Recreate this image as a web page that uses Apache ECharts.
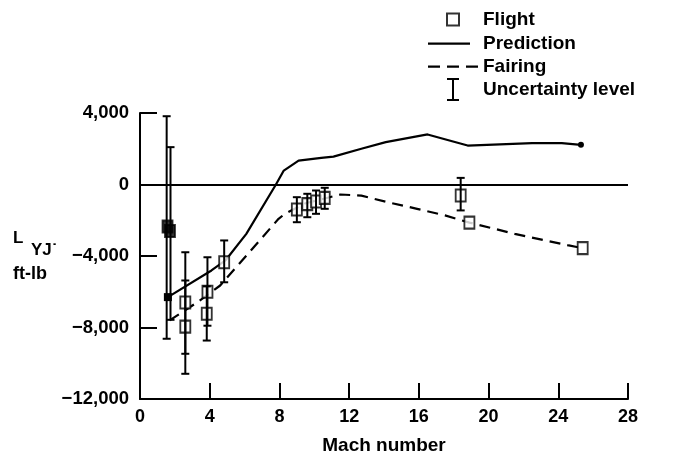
<!DOCTYPE html>
<html>
<head>
<meta charset="utf-8">
<script src="https://cdn.jsdelivr.net/npm/echarts@6/dist/echarts.min.js"></script>
<style>
html,body{margin:0;padding:0;background:#fff;}
#chart{width:674px;height:460px;}
</style>
</head>
<body>
<div id="chart"></div>
<script>
// ---- data ----
const xTicks = [0, 4, 8, 12, 16, 20, 24, 28];
const yTicks = [-12000, -8000, -4000, 0, 4000];

// Flight points (Mach, L_YJ ft-lb)
const flightMach = [1.58, 1.72, 2.6, 2.6, 3.87, 3.83, 4.83, 9.0, 9.6, 10.1, 10.6, 18.4, 18.9, 25.4];
const flightVal  = [-2350, -2600, -6600, -7950, -6000, -7230, -4350, -1400, -1100, -950, -750, -615, -2130, -3560];

// Uncertainty bars (Mach, low, high)
const barMach = [1.53, 1.75, 2.6, 2.6, 3.87, 3.83, 4.83, 9.0, 9.6, 10.1, 10.6, 18.4];
const barLow  = [-8630, -7570, -9470, -10590, -7900, -8730, -5470, -2110, -1830, -1640, -1360, -1450];
const barHigh = [3820, 2090, -3790, -5370, -4070, -5700, -3130, -710, -520, -335, -185, 370];

// Prediction (solid)
const predMach = [1.6, 4.1, 4.9, 6.1, 7.8, 8.25, 9.1, 10.4, 11.1, 12.7, 14.1, 16.5, 18.8, 22.5, 24.2, 25.3];
const predVal  = [-6300, -4810, -4250, -2760, 0, 780, 1340, 1490, 1560, 2000, 2370, 2800, 2180, 2310, 2310, 2220];

// Fairing (dashed)
const fairMach = [1.7, 3.3, 4.6, 7.95, 8.3, 9.5, 11.5, 12.7, 14.2, 15.9, 17.5, 18.9, 21.5, 24.6, 25.4];
const fairVal  = [-7600, -6580, -5650, -1920, -1650, -1050, -560, -620, -990, -1360, -1730, -2130, -2760, -3410, -3560];

// ---- build ----
const FONT = '"Liberation Sans", Arial, Helvetica, sans-serif';
const flightData = flightMach.map((m, i) => {
  const item = { value: [m, flightVal[i]] };
  if (i < 2) item.itemStyle = { color: '#000' };
  return item;
});
const barData = barMach.map((m, i) => [m, barLow[i], barHigh[i]]);
const predData = predMach.map((m, i) => {
  const item = { value: [m, predVal[i]] };
  if (i === 0) { item.symbol = 'rect'; item.symbolSize = 8; }
  if (i === predMach.length - 1) { item.symbol = 'circle'; item.symbolSize = 6; }
  return item;
});
const fairData = fairMach.map((m, i) => [m, fairVal[i]]);

function fmt(v) {
  const s = Math.abs(v).toLocaleString('en-US');
  return v < 0 ? '\u2212' + s : s;
}

const chart = echarts.init(document.getElementById('chart'), null, { renderer: 'canvas' });
chart.setOption({
  animation: false,
  backgroundColor: '#fff',
  textStyle: { fontFamily: FONT },
  grid: { left: 140, right: 46, top: 113, bottom: 61 },
  legend: {
    orient: 'vertical',
    left: 428,
    top: 7,
    padding: 0,
    itemWidth: 50,
    itemHeight: 23,
    itemGap: 0,
    textStyle: { fontFamily: FONT, fontSize: 19, fontWeight: 'bold', color: '#000' },
    data: [
      { name: 'Flight', icon: 'path://M0,0M23,23M5.5,5.5H17.5V17.5H5.5Z' },
      { name: 'Prediction', icon: 'path://M0,0M50,23M0,10.5H42V12.7H0Z' },
      { name: 'Fairing', icon: 'path://M0,0M50,23M0,10.5H12V12.7H0Z M19,10.5H31V12.7H19Z M38,10.5H50V12.7H38Z' },
      { name: 'Uncertainty level', icon: 'path://M0,0H12V2H7V21H12V23H0V21H5V2H0Z' }
    ]
  },
  xAxis: {
    type: 'value',
    min: xTicks[0],
    max: xTicks[xTicks.length - 1],
    interval: 4,
    name: 'Mach number',
    nameLocation: 'middle',
    nameGap: 37,
    nameTextStyle: { fontFamily: FONT, fontSize: 19, fontWeight: 'bold', color: '#000' },
    axisLine: { show: true, onZero: false, lineStyle: { color: '#000', width: 2 } },
    axisTick: { show: true, inside: true, length: 16, lineStyle: { color: '#000', width: 2 } },
    axisLabel: { fontFamily: FONT, fontSize: 18, fontWeight: 'bold', color: '#000', margin: 9 },
    splitLine: { show: false }
  },
  yAxis: {
    type: 'value',
    min: yTicks[0],
    max: yTicks[yTicks.length - 1],
    interval: 4000,
    axisLine: { show: true, onZero: false, lineStyle: { color: '#000', width: 2 } },
    axisTick: { show: true, inside: true, length: 17, lineStyle: { color: '#000', width: 2 } },
    axisLabel: { fontFamily: FONT, fontSize: 18.5, fontWeight: 'bold', color: '#000', margin: 11, formatter: fmt },
    splitLine: { show: false }
  },
  graphic: [
    { type: 'text', left: 13, top: 230, style: { text: 'L', font: 'bold 17px ' + FONT, fill: '#000' } },
    { type: 'text', left: 31, top: 242, style: { text: 'YJ\u02D9', font: 'bold 17px ' + FONT, fill: '#000' } },
    { type: 'text', left: 13, top: 265, style: { text: 'ft-lb', font: 'bold 18px ' + FONT, fill: '#000' } }
  ],
  series: [
    {
      name: 'Prediction',
      type: 'line',
      data: predData,
      symbol: 'none',
      showSymbol: true,
      itemStyle: { color: '#000' },
      lineStyle: { color: '#000', width: 2.2 },
      z: 3,
      markLine: {
        silent: true,
        symbol: 'none',
        label: { show: false },
        lineStyle: { color: '#000', width: 2, type: 'solid' },
        data: [{ yAxis: 0 }]
      }
    },
    {
      name: 'Fairing',
      type: 'line',
      data: fairData,
      symbol: 'none',
      itemStyle: { color: '#000' },
      lineStyle: { color: '#000', width: 2.2, type: [11, 7] },
      z: 3
    },
    {
      name: 'Flight',
      type: 'scatter',
      data: flightData,
      symbol: 'rect',
      symbolSize: [10, 12],
      itemStyle: { color: '#fff', borderColor: '#000', borderWidth: 2 },
      z: 4
    },
    {
      name: 'Uncertainty level',
      type: 'custom',
      data: barData,
      itemStyle: { color: '#000' },
      z: 5,
      renderItem: function (params, api) {
        const x = api.value(0), lo = api.value(1), hi = api.value(2);
        const a = api.coord([x, lo]);
        const b = api.coord([x, hi]);
        const c = 4;
        const st = { stroke: '#000', lineWidth: 2 };
        return {
          type: 'group',
          children: [
            { type: 'line', shape: { x1: a[0], y1: a[1], x2: b[0], y2: b[1] }, style: st },
            { type: 'line', shape: { x1: a[0] - c, y1: a[1], x2: a[0] + c, y2: a[1] }, style: st },
            { type: 'line', shape: { x1: b[0] - c, y1: b[1], x2: b[0] + c, y2: b[1] }, style: st }
          ]
        };
      }
    }
  ]
});
</script>
</body>
</html>
